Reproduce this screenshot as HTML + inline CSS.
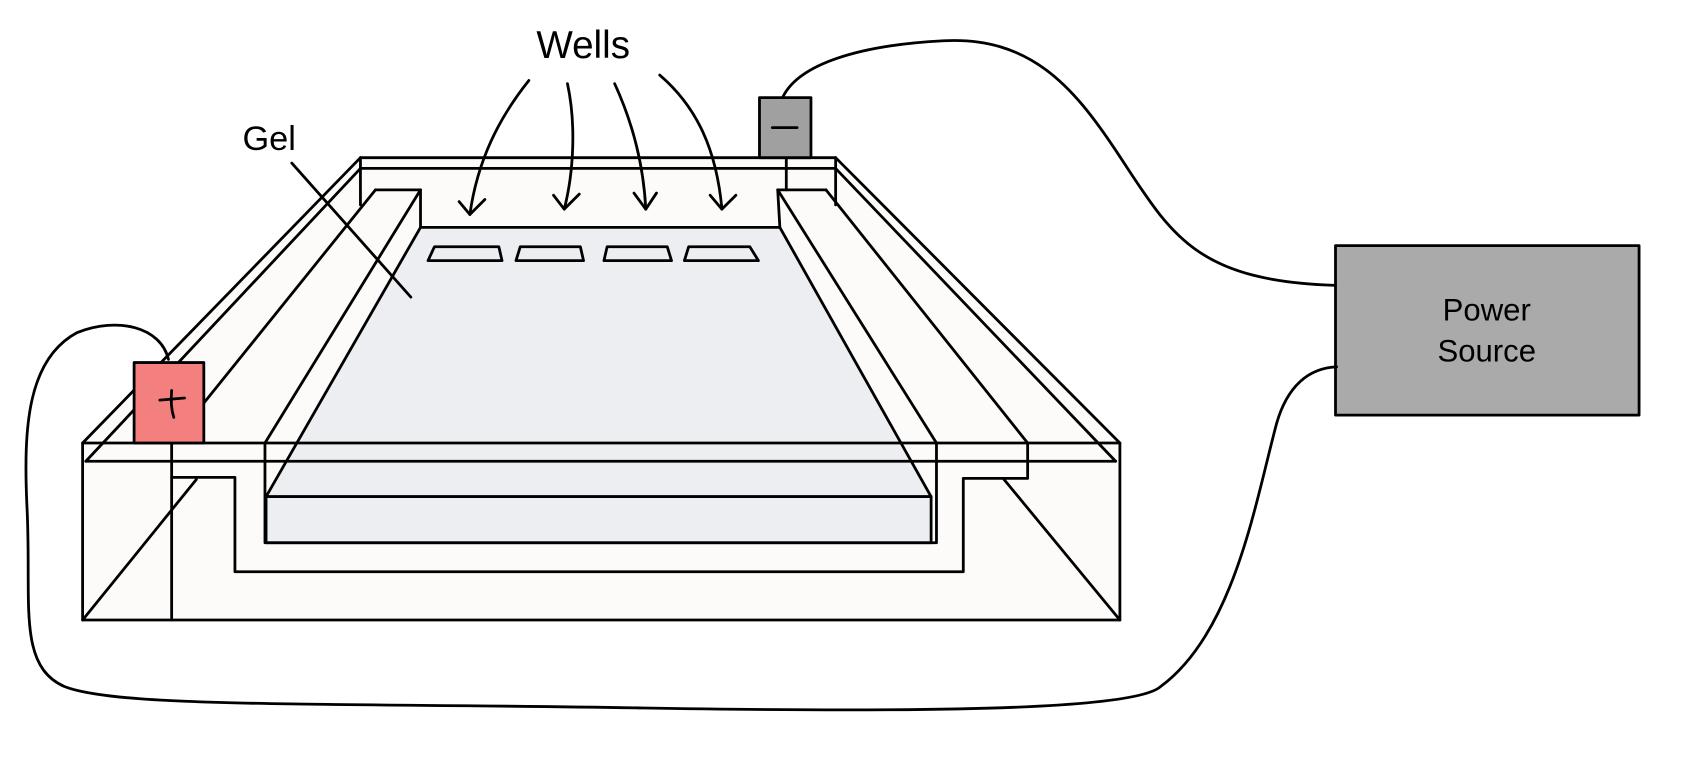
<!DOCTYPE html>
<html><head><style>html,body{margin:0;padding:0;background:#fff}svg{display:block}</style></head>
<body>
<svg width="1682" height="763" viewBox="0 0 1568 711.3" xmlns="http://www.w3.org/2000/svg">
<g stroke="#000" stroke-width="2.6" fill="none" stroke-linejoin="round" stroke-linecap="round">
<!-- tank fill -->
<polygon points="77,413 336,147 779,147 1044,413 1044,578 77,578" fill="#fcfbf9" stroke="none"/>
<!-- gel -->
<polygon points="392,212 727,212 868,463 248,463" fill="#edeef1"/>
<rect x="248" y="463" width="620" height="43" fill="#edeef1"/>
<!-- back walls -->
<line x1="336" y1="147" x2="779" y2="147"/>
<line x1="336" y1="157" x2="779" y2="157"/>
<line x1="336" y1="147" x2="336" y2="191"/>
<line x1="779" y1="147" x2="779" y2="191"/>
<line x1="733" y1="147" x2="733" y2="177"/>
<polyline points="350,177 392,177 392,212"/>
<polyline points="770,177 725,177 727,212"/>
<!-- outer diagonals -->
<line x1="336" y1="147" x2="77" y2="413"/>
<line x1="336" y1="157" x2="80" y2="430"/>
<line x1="779" y1="147" x2="1044" y2="413"/>
<line x1="779" y1="157" x2="1040" y2="430"/>
<!-- ramps -->
<line x1="350" y1="177" x2="160" y2="413"/>
<line x1="392" y1="177" x2="247" y2="413"/>
<line x1="770" y1="177" x2="958" y2="413"/>
<line x1="725" y1="177" x2="873" y2="413"/>
<!-- front -->
<rect x="77" y="413" width="967" height="165"/>
<line x1="80" y1="430" x2="1040" y2="430"/>
<polyline points="247,413 247,506 873,506 873,413"/>
<polyline points="160,445 219,445 219,533 898,533 898,446 958,446 958,413"/>
<line x1="160" y1="413" x2="160" y2="578"/>
<line x1="183" y1="447" x2="77" y2="578"/>
<line x1="936" y1="447" x2="1044" y2="578"/>
<!-- wells -->
<polygon points="405,230 465,230 468,243 399,243"/>
<polygon points="485,230 541,230 544,243 481,243"/>
<polygon points="566,230 622,230 626,243 563,243"/>
<polygon points="642,230 699,230 707,243 638,243"/>
<!-- boxes -->
<rect x="125" y="338" width="65" height="75" fill="#f47f7f"/>
<rect x="708" y="91" width="48" height="56" fill="#a0a0a0"/>
<rect x="1245" y="229" width="283" height="158" fill="#a9aaa9"/>
<!-- wires -->
<path d="M730,90 C745,60 800,42 880,38 C960,34 1000,80 1040,140 C1090,215 1110,262 1245,266"/>
<path d="M157,335 C150,305 110,295 72,310 C25,335 22,400 25,470 C30,560 15,620 60,640 C110,660 300,655 600,660 C900,665 1060,660 1082,640 C1150,590 1170,470 1190,395 C1200,360 1220,343 1246,342"/>
<!-- wells arrows -->
<path d="M493,75 C465,110 445,150 438,200"/>
<path d="M428,188 L438,200 L452,186"/>
<path d="M529,78 C537,115 535,160 526,195"/>
<path d="M516,182 L526,195 L540,181"/>
<path d="M573,78 C590,115 600,155 602,195"/>
<path d="M591,180 L602,195 L612,180"/>
<path d="M615,70 C650,100 668,140 673,195"/>
<path d="M662,182 L673,195 L686,182"/>
<!-- gel pointer -->
<line x1="272" y1="152" x2="383" y2="277"/>
<!-- signs -->
<line x1="720" y1="119" x2="743" y2="119"/>
<line x1="149" y1="373" x2="172" y2="371"/>
<path d="M160,364 C159,375 160,383 162,389"/>
</g>
<g font-family="Liberation Sans, sans-serif" fill="#000" font-weight="normal">
<text x="500" y="54" font-size="36">Wells</text>
<text x="226" y="140" font-size="32">Gel</text>
<text x="1386" y="299" font-size="29" text-anchor="middle">Power</text>
<text x="1386" y="337" font-size="29" text-anchor="middle">Source</text>
</g>
</svg>
</body></html>
